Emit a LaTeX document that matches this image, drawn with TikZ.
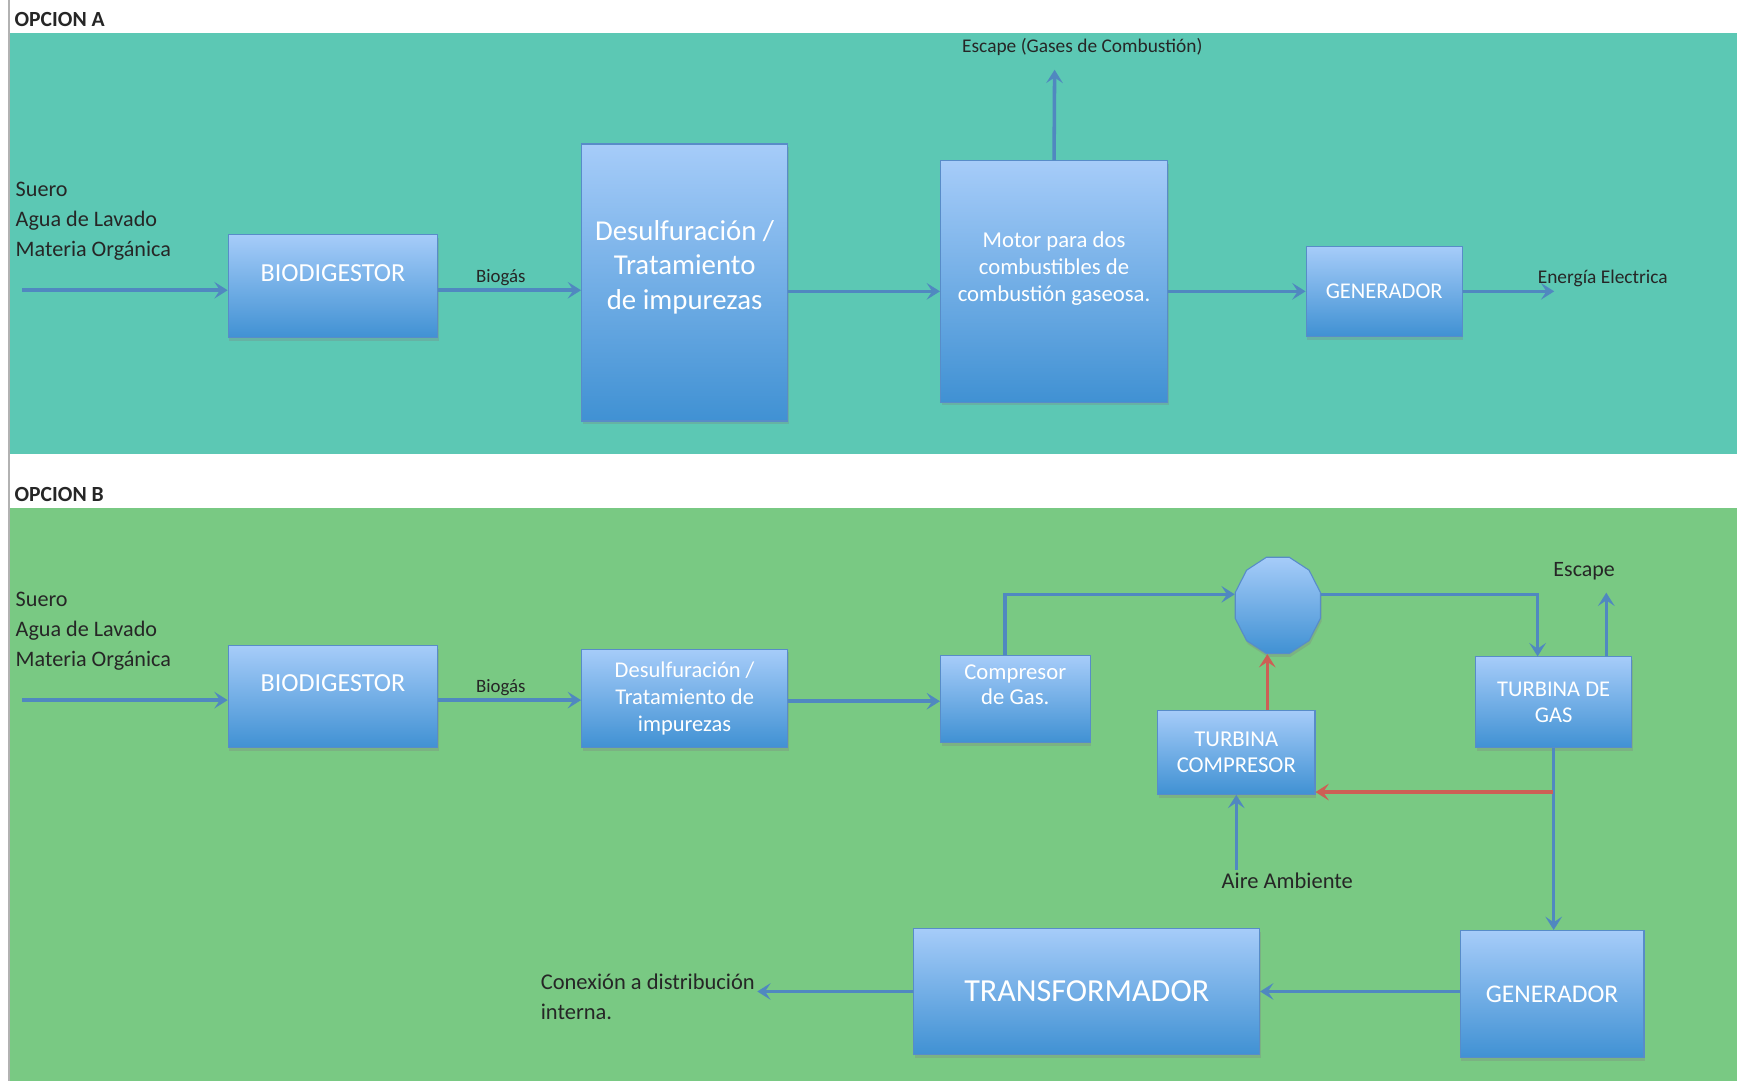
\documentclass[tikz,border=0pt]{standalone}
\usepackage{fontspec}
\setmainfont{Carlito}
\usetikzlibrary{arrows.meta,shapes.geometric,shadows}

\definecolor{panelA}{RGB}{92,200,180}
\definecolor{panelB}{RGB}{121,201,131}
\definecolor{boxtop}{RGB}{166,204,249}
\definecolor{boxbot}{RGB}{64,145,211}
\definecolor{boxedge}{RGB}{88,140,200}
\definecolor{flowblue}{RGB}{80,136,192}
\definecolor{flowred}{RGB}{205,95,85}

\tikzset{
  blk/.style={rectangle, draw=boxedge, line width=1pt, top color=boxtop, bottom color=boxbot,
    text=white, align=center, inner sep=2pt,
    drop shadow={opacity=0.3, shadow xshift=1pt, shadow yshift=-3pt}},
  flow/.style={draw=flowblue, line width=3.2pt, -{Stealth[length=12pt,width=15pt,inset=5pt]}},
  hot/.style={flow, draw=flowred},
  lbl/.style={text=black!85, inner sep=2pt},
  pt/.style={font=\fontsize{#1}{#1}\selectfont},
  ptl/.style 2 args={font=\fontsize{#1}{#2}\selectfont},
}

\begin{document}
\begin{tikzpicture}[x=1pt, y=-1pt]
  \useasboundingbox (0,0) rectangle (1568,976);
  % panels
  \fill[panelA] (9,30) rectangle (1568,410);
  \fill[panelB] (9,459) rectangle (1568,976);
  \draw[gray!60, line width=1.5pt] (8,0) -- (8,976);
  \node[lbl, anchor=west, font=\bfseries\fontsize{19.5}{19.5}\selectfont] (optA) at (11,18) {OPCION A};
  \node[lbl, anchor=west, font=\bfseries\fontsize{19.5}{19.5}\selectfont] (optB) at (11,446) {OPCION B};

  % opcion A
  \node[lbl, anchor=west, align=left, ptl={20}{27}] (srcA) at (12,200) {Suero\\Agua de Lavado\\Materia Orgánica};
  \node[blk, pt=23.5, minimum width=189pt, minimum height=93pt, text depth=24pt] (bioA) at (300.5,258.5) {BIODIGESTOR};
  \node[blk, ptl={26}{31}, minimum width=186pt, minimum height=250pt, text depth=32pt] (desA) at (618,255) {Desulfuración /\\Tratamiento\\de impurezas};
  \node[blk, ptl={20.5}{24.5}, minimum width=205pt, minimum height=218pt, text depth=26pt] (motA) at (951.5,254) {Motor para dos\\combustibles de\\combustión gaseosa.};
  \node[blk, pt=20.3, minimum width=141pt, minimum height=81pt] (genA) at (1249.5,263) {GENERADOR};
  \node[lbl, pt=17] (gasA) at (452,251) {Biogás};
  \node[lbl, pt=17.5] (escLblA) at (977,42) {Escape (Gases de Combustión)};
  \node[lbl, anchor=west, pt=17.5] (elecA) at (1386,251) {Energía Electrica};
  \coordinate (inA) at (20,262);
  \coordinate (escA) at (952,63);
  \coordinate (outA) at (1403,265);

  \draw[flow] (inA) -- (inA -| bioA.west);
  \draw[flow] ([yshift=-3.5pt]bioA.east) -- ([yshift=-3.5pt]bioA.east -| desA.west);
  \draw[flow] ([yshift=-8pt]desA.east) -- ([yshift=-8pt]desA.east -| motA.west);
  \draw[flow] (motA.north) -- (escA);
  \draw[flow] (motA.east |- genA) -- (genA.west);
  \draw[flow] (genA.east) -- (genA.east -| outA);

  % opcion B
  \node[lbl, anchor=west, align=left, ptl={20}{27}] (srcB) at (12,570) {Suero\\Agua de Lavado\\Materia Orgánica};
  \node[blk, pt=23.5, minimum width=189pt, minimum height=92pt, text depth=24pt] (bioB) at (300.5,629) {BIODIGESTOR};
  \node[blk, ptl={20.3}{24}, minimum width=186pt, minimum height=89pt] (desB) at (618,630.5) {Desulfuración /\\Tratamiento de\\impurezas};
  \node[blk, ptl={20.5}{23}, minimum width=135pt, minimum height=78pt, text depth=26pt] (compB) at (916.5,631) {Compresor\\de Gas.};
  \node[blk, regular polygon, regular polygon sides=12, minimum size=90pt, inner sep=0pt,
        xscale=0.885, transform shape] (mix) at (1153.5,546.5) {};
  \node[blk, ptl={20.5}{24}, minimum width=142pt, minimum height=76pt] (tcomB) at (1116,679) {TURBINA\\COMPRESOR};
  \node[blk, ptl={20.3}{24}, minimum width=141pt, minimum height=82pt] (turbB) at (1402.5,634) {TURBINA DE\\GAS};
  \node[blk, pt=23, minimum width=166pt, minimum height=115pt] (genB) at (1401,897.5) {GENERADOR};
  \node[blk, pt=29, minimum width=312pt, minimum height=114pt] (trafoB) at (981,895) {TRANSFORMADOR};
  \node[lbl, pt=17] (gasB) at (452,621) {Biogás};
  \node[lbl, pt=19.8] (escLblB) at (1430,516) {Escape};
  \node[lbl, pt=20.3] (aire) at (1162,795) {Aire Ambiente};
  \node[lbl, anchor=west, align=left, ptl={20.3}{27}] (conx) at (486,899.5) {Conexión a distribución\\interna.};
  \coordinate (inB) at (20,632);
  \coordinate (escB) at (1450,535);
  \coordinate (tap) at (1402,715);

  \draw[flow] (inB) -- (inB -| bioB.west);
  \draw[flow] ([yshift=-3pt]bioB.east) -- ([yshift=-3pt]bioB.east -| desB.west);
  \draw[flow] ([yshift=-2.5pt]desB.east) -- ([yshift=-2.5pt]desB.east -| compB.west);
  \draw[flow] ([xshift=-9.5pt]compB.north) |- ([yshift=10pt]mix.west);
  \draw[flow] ([yshift=10pt]mix.east) -| ([xshift=-14.5pt]turbB.north);
  \draw[flow] (turbB.north -| escB) -- (escB);
  \draw[flow] (turbB.south) -- (turbB.south |- genB.north);
  \draw[hot] (tap) -- (tap -| tcomB.east);
  \draw[hot] ([xshift=28pt]tcomB.north) -- ([xshift=28pt]tcomB.north |- mix.south);
  \draw[flow] (aire.north -| tcomB) -- (tcomB.south);
  \draw[flow] (genB.west |- trafoB) -- (trafoB.east);
  \draw[flow] (trafoB.west) -- (trafoB.west -| conx.east);
\end{tikzpicture}
\end{document}
